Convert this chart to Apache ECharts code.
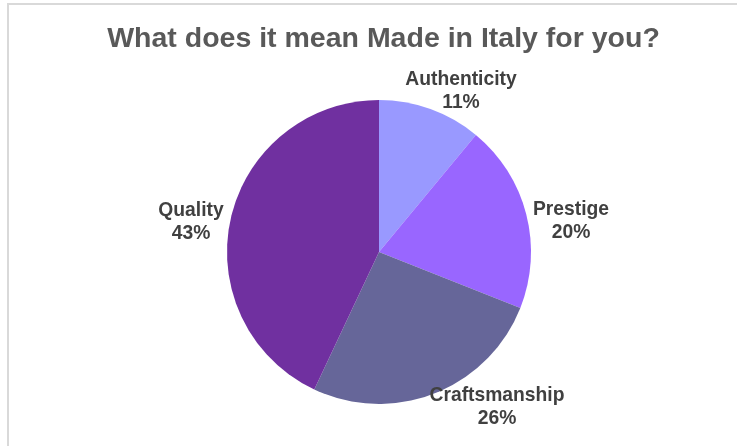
<!DOCTYPE html>
<html>
<head>
<meta charset="utf-8">
<script src="https://cdn.jsdelivr.net/npm/echarts@6/dist/echarts.min.js"></script>
<style>
  html, body { margin: 0; padding: 0; background: #fff; }
  #chart { width: 737px; height: 446px; }
</style>
</head>
<body>
<div id="chart"></div>
<script>
// data
var categories = ['Authenticity', 'Prestige', 'Craftsmanship', 'Quality']
var shares = [11, 20, 26, 43]
var sliceColors = ['#9999FF', '#9966FF', '#666699', '#7030A0']

// where the outside labels sit (Excel "best fit" placement)
var labelSpots = [[461, 91], [571, 221], [497, 407], [191, 222]]

var chart = echarts.init(document.getElementById('chart'))

var option = {
  animation: false,
  backgroundColor: '#fff',
  title: {
    text: 'What does it mean Made in Italy for you?',
    left: 378.5,
    top: 20,
    textAlign: 'center',
    textStyle: {
      fontFamily: 'Liberation Sans',
      fontSize: 28.5,
      fontWeight: 'bold',
      color: '#595959'
    }
  },
  graphic: [
    {
      type: 'rect',
      shape: { x: 8, y: 4, width: 800, height: 500 },
      style: { fill: 'none', stroke: '#d9d9d9', lineWidth: 2 },
      silent: true
    }
  ],
  series: [
    {
      type: 'pie',
      center: [379, 252],
      radius: [0, 152],
      startAngle: 90,
      clockwise: true,
      avoidLabelOverlap: false,
      data: categories.map(function(name, i) {
        return { name: name, value: shares[i], itemStyle: { color: sliceColors[i] } }
      }),
      label: {
        show: true,
        position: 'outside',
        formatter: function(p) {
          return p.name + '\n' + p.value + '%'
        },
        fontFamily: 'Liberation Sans',
        fontSize: 19.3,
        fontWeight: 'bold',
        lineHeight: 23,
        color: '#404040'
      },
      labelLine: { show: false },
      labelLayout: function(params) {
        var s = labelSpots[params.dataIndex]
        return { x: s[0], y: s[1], align: 'center', verticalAlign: 'middle' }
      }
    }
  ]
}

chart.setOption(option)
</script>
</body>
</html>
